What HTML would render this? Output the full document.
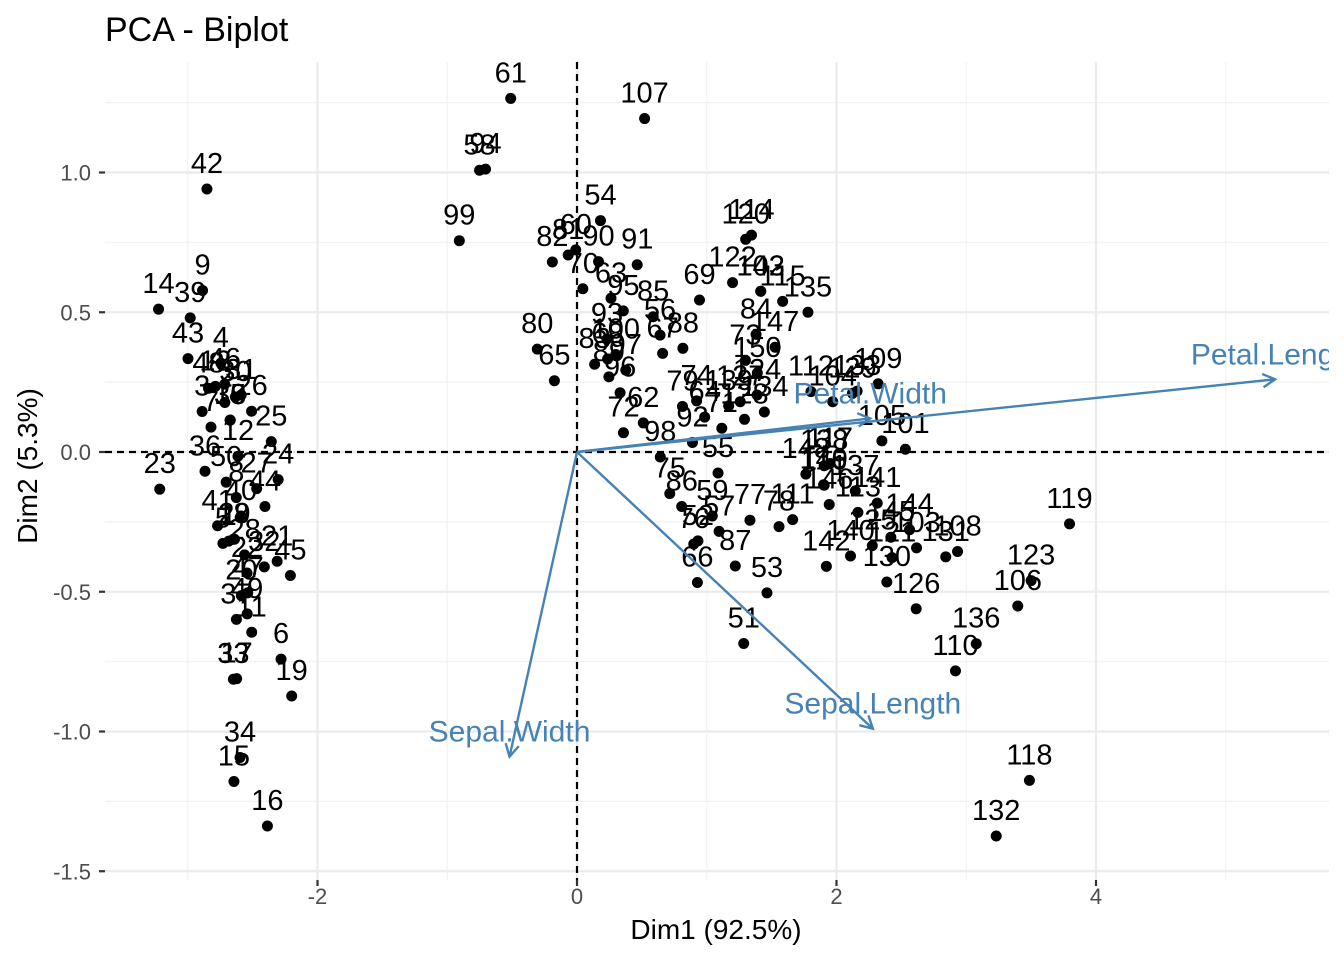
<!DOCTYPE html>
<html><head><meta charset="utf-8"><style>
body{margin:0;background:#fff;}
svg{display:block;font-family:"Liberation Sans",Arial,sans-serif;}
</style></head><body>
<svg id="chart" width="1344" height="960">
<defs><clipPath id="pc"><rect x="105" y="62" width="1224" height="818"/></clipPath></defs>
<text x="105" y="41" font-size="34" fill="#000">PCA - Biplot</text>
<g id="grid"></g><g id="axes"></g><g id="marks" clip-path="url(#pc)"></g>
<text x="716" y="939" font-size="28" text-anchor="middle">Dim1 (92.5%)</text>
<text transform="translate(37,466) rotate(-90)" font-size="28" text-anchor="middle">Dim2 (5.3%)</text>
</svg>
<script>
const dim1=[-2.684,-2.714,-2.889,-2.745,-2.729,-2.281,-2.821,-2.626,-2.886,-2.673,-2.507,-2.613,-2.787,-3.225,-2.644,-2.386,-2.623,-2.648,-2.199,-2.587,-2.311,-2.543,-3.216,-2.303,-2.356,-2.508,-2.469,-2.562,-2.640,-2.633,-2.588,-2.410,-2.648,-2.597,-2.673,-2.867,-2.625,-2.673,-2.981,-2.590,-2.770,-2.852,-2.998,-2.405,-2.209,-2.715,-2.538,-2.840,-2.542,-2.704,
1.285,0.932,1.464,0.181,1.087,0.640,1.095,-0.751,1.043,-0.010,-0.511,0.511,0.262,0.984,-0.174,0.928,0.660,0.236,0.944,0.045,1.116,0.358,1.298,0.922,0.715,0.900,1.333,1.557,0.813,-0.306,-0.068,-0.190,0.136,1.380,0.587,0.807,1.220,0.816,0.246,0.166,0.464,0.890,0.231,-0.705,0.357,0.332,0.376,0.642,-0.907,0.299,
2.531,1.416,2.617,1.971,2.350,3.397,0.521,2.933,2.321,2.917,1.662,1.803,2.165,1.345,1.585,1.905,1.949,3.487,3.796,1.300,2.428,1.199,3.500,1.388,2.276,2.614,1.258,1.291,2.123,2.388,2.842,3.231,2.159,1.444,1.780,3.077,2.145,1.905,1.169,2.108,2.314,1.922,1.416,2.563,2.419,1.944,1.527,1.764,1.901,1.390];
const dim2=[-0.319,0.177,0.145,0.318,-0.327,-0.741,0.089,-0.163,0.578,0.114,-0.645,-0.015,0.235,0.511,-1.179,-1.338,-0.811,-0.312,-0.873,-0.514,-0.391,-0.433,-0.133,-0.099,0.037,0.146,-0.131,-0.368,-0.312,0.197,0.204,-0.411,-0.813,-1.093,0.114,-0.069,-0.599,0.114,0.480,-0.229,-0.264,0.941,0.334,-0.195,-0.442,0.243,-0.504,0.228,-0.579,-0.108,
-0.685,-0.318,-0.504,0.828,-0.075,0.418,-0.284,1.008,-0.229,0.723,1.265,0.104,0.550,0.125,0.255,-0.467,0.353,0.333,0.544,0.584,0.085,0.069,0.328,0.183,-0.149,-0.329,-0.244,-0.267,0.163,0.368,0.705,0.680,0.314,0.421,0.484,-0.195,-0.408,0.371,0.269,0.681,0.670,0.034,0.404,1.012,0.505,0.212,0.293,-0.018,0.756,0.349,
0.010,0.575,-0.343,0.180,0.040,-0.551,1.193,-0.356,0.244,-0.783,-0.242,0.216,-0.216,0.776,0.539,-0.119,-0.041,-1.175,-0.257,0.761,-0.378,0.606,-0.460,0.204,-0.335,-0.561,0.180,0.117,0.210,-0.465,-0.375,-1.374,0.218,0.143,0.500,-0.686,-0.139,-0.049,0.165,-0.372,-0.183,-0.409,0.575,-0.278,-0.305,-0.188,0.375,-0.079,-0.117,0.283];
const varNames=["Sepal.Length","Sepal.Width","Petal.Length","Petal.Width"];
const varX=[2.28,-0.52,5.38,2.26];
const varY=[-0.99,-1.09,0.26,0.12];
const xTicks=[-2,0,2,4];
const yTicks=[-1.5,-1.0,-0.5,0.0,0.5,1.0];
const yTickLabels=["-1.5","-1.0","-0.5","0.0","0.5","1.0"];
const xMinor=[-3,-1,1,3,5];
const yMinor=[-1.25,-0.75,-0.25,0.25,0.75,1.25];

const X=v=>577+v*129.75, Y=v=>452-v*279.5;
const L=105,R=1329,T=62,B=880;
const NS="http://www.w3.org/2000/svg";
function mk(tag,parent,attrs){const e=document.createElementNS(NS,tag);for(const k in attrs)e.setAttribute(k,attrs[k]);parent.appendChild(e);return e;}
const grid=document.getElementById('grid'),axes=document.getElementById('axes'),marks=document.getElementById('marks');
xMinor.forEach(v=>{const e=mk('line',grid,{x1:X(v),x2:X(v),y1:T,y2:B,stroke:'#f2f2f2','stroke-width':1.2});

});
yMinor.forEach(v=>{const e=mk('line',grid,{x1:L,x2:R,y1:Y(v),y2:Y(v),stroke:'#f2f2f2','stroke-width':1.2});

});
xTicks.forEach(v=>{const e=mk('line',grid,{x1:X(v),x2:X(v),y1:T,y2:B,stroke:'#ebebeb','stroke-width':2.2});


const t=mk('line',axes,{x1:X(v),x2:X(v),y1:B,y2:B+6,stroke:'#333','stroke-width':2.2});


const l=mk('text',axes,{x:X(v),y:B+24,'font-size':22,fill:'#4d4d4d','text-anchor':'middle'});l.textContent=String(v);

});
yTicks.forEach((v,i)=>{const e=mk('line',grid,{x1:L,x2:R,y1:Y(v),y2:Y(v),stroke:'#ebebeb','stroke-width':2.2});


const t=mk('line',axes,{x1:L-6,x2:L,y1:Y(v),y2:Y(v),stroke:'#333','stroke-width':2.2});


const l=mk('text',axes,{x:L-14,y:Y(v)+8,'font-size':22,fill:'#4d4d4d','text-anchor':'end'});l.textContent=yTickLabels[i];

});
const h=mk('line',marks,{x1:L,x2:R,y1:Y(0),y2:Y(0),stroke:'#000','stroke-width':2.2,'stroke-dasharray':'7,5'});


const vv=mk('line',marks,{x1:X(0),x2:X(0),y1:T,y2:B,stroke:'#000','stroke-width':2.2,'stroke-dasharray':'7,5'});


dim1.forEach((d,i)=>{const c=mk('circle',marks,{cx:X(d),cy:Y(dim2[i]),r:5.5,fill:'#000'});


const t=mk('text',marks,{x:X(d),y:Y(dim2[i])-16,'font-size':29,'text-anchor':'middle',fill:'#000'});t.textContent=String(i+1);

});
varNames.forEach((n,i)=>{const x2=X(varX[i]),y2=Y(varY[i]),x1=X(0),y1=Y(0);
const a=Math.atan2(y2-y1,x2-x1),s=14,w=0.5;
const g=mk('g',marks,{});


mk('line',g,{x1:x1,y1:y1,x2:x2,y2:y2,stroke:'#4682B4','stroke-width':2.4});
mk('polyline',g,{points:`${x2-s*Math.cos(a-w)},${y2-s*Math.sin(a-w)} ${x2},${y2} ${x2-s*Math.cos(a+w)},${y2-s*Math.sin(a+w)}`,fill:'none',stroke:'#4682B4','stroke-width':2.4});
const t=mk('text',marks,{x:x2,y:y2-15,'font-size':30,'text-anchor':'middle',fill:'#4682B4'});t.textContent=n;

});
</script>
</body></html>
